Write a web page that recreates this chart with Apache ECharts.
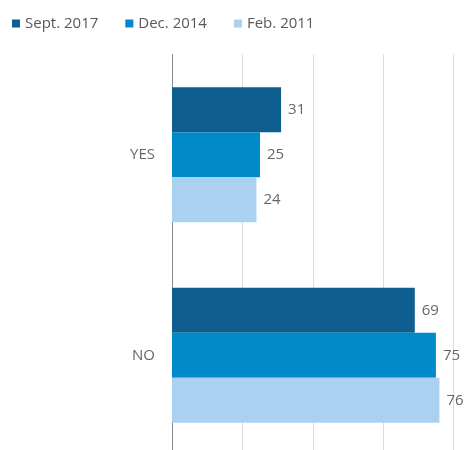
<!DOCTYPE html>
<html><head><meta charset="utf-8">
<script src="https://cdn.jsdelivr.net/npm/echarts@6/dist/echarts.min.js"></script>
<style>html,body{margin:0;padding:0;background:#fff;overflow:hidden}#c{width:468px;height:470px}</style>
</head><body><div id="c"></div>
<script>
const categories = ['YES', 'NO'];
const seriesNames = ['Sept. 2017', 'Dec. 2014', 'Feb. 2011'];
const sept2017 = [31, 69];
const dec2014 = [25, 75];
const feb2011 = [24, 76];
const colors = ['#0e5e8f', '#008aca', '#aad1f0'];
const values = [sept2017, dec2014, feb2011];
const font = '"Open Sans", sans-serif';
const chart = echarts.init(document.getElementById('c'), null, {renderer: 'canvas'});
chart.setOption({
  animation: false,
  color: colors,
  textStyle: {fontFamily: font},
  legend: {
    left: 7, top: 11, itemWidth: 8, itemHeight: 8, itemGap: 27,
    icon: 'rect',
    textStyle: {fontFamily: font, fontSize: 15, color: '#595959'},
    data: seriesNames
  },
  grid: {left: 172, top: 54.5, width: 281.5, height: 401, containLabel: false},
  xAxis: {
    type: 'value', min: 0, max: 80, interval: 20,
    axisLabel: {show: false}, axisTick: {show: false}, axisLine: {show: false},
    splitLine: {show: true, lineStyle: {color: '#dcdcdc', width: 1}}
  },
  yAxis: {
    type: 'category', data: categories, inverse: true,
    axisTick: {show: false},
    axisLine: {show: true, lineStyle: {color: '#8a8a8a', width: 1}},
    axisLabel: {fontFamily: font, fontSize: 15, color: '#666', margin: 17}
  },
  series: seriesNames.map((n, i) => ({
    name: n, type: 'bar', data: values[i], barWidth: 45, barGap: '0%',
    itemStyle: {color: colors[i]},
    label: {show: true, position: 'right', distance: 7, fontFamily: font, fontSize: 15, color: '#666'}
  }))
});
</script></body></html>
